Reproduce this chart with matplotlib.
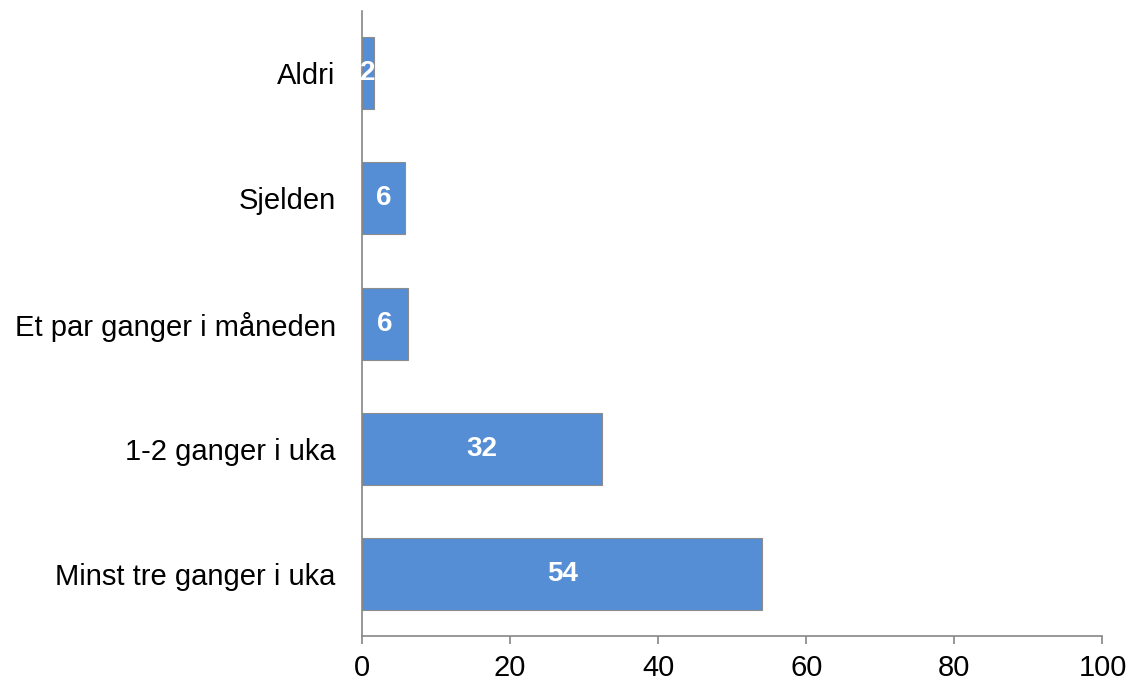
import matplotlib
matplotlib.use("Agg")
import matplotlib.pyplot as plt

categories = ["Minst tre ganger i uka", "1-2 ganger i uka", "Et par ganger i måneden", "Sjelden", "Aldri"]
values = [54.05, 32.4, 6.2, 5.8, 1.6]
labels = ["54", "32", "6", "6", "2"]
xticks = [0, 20, 40, 60, 80, 100]

plt.rcParams['font.family'] = ['Liberation Sans', 'DejaVu Sans']

fig = plt.figure(figsize=(11.31, 6.82), dpi=100)
ax = fig.add_axes([0.3201, 0.0674, 0.6547, 0.9165])

ypos = list(range(len(categories)))
bars = ax.barh(ypos, values, height=0.576, color="#558ED5", edgecolor="#8C8C8C", linewidth=0.8)
for b, lab in zip(bars, labels):
    ax.text(b.get_width() / 2, b.get_y() + b.get_height() / 2, lab,
            ha="center", va="center", color="white", fontsize=20, fontweight="bold")

ax.set_xlim(0, 100)
ax.set_ylim(-0.5, 4.5)
ax.set_xticks(xticks)
ax.set_xticklabels([str(t) for t in xticks])
ax.set_yticks(ypos)
ax.set_yticklabels(categories)

for s in ["top", "right"]:
    ax.spines[s].set_visible(False)
for s in ["left", "bottom"]:
    ax.spines[s].set_color("#868686")
    ax.spines[s].set_linewidth(1.2)

ax.tick_params(axis="y", length=0, pad=19, labelsize=21)
ax.tick_params(axis="x", length=6, width=1.2, color="#868686", pad=7, labelsize=21)

fig.savefig("out.png", dpi=100)
